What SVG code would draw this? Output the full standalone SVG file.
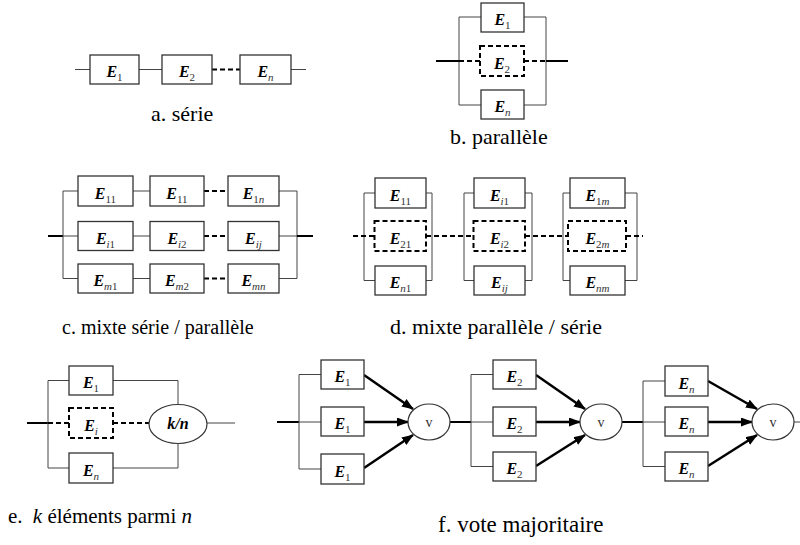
<svg xmlns="http://www.w3.org/2000/svg" width="800" height="545" viewBox="0 0 800 545">
<style>
.box{fill:#fff;stroke:#333;stroke-width:1.3}
.dbox{fill:#fff;stroke:#000;stroke-width:2;stroke-dasharray:5 3}
.thin{fill:none;stroke:#444;stroke-width:1}
.heavy{fill:none;stroke:#000;stroke-width:2}
.dash{fill:none;stroke:#000;stroke-width:2;stroke-dasharray:5 3}
.arrow{fill:none;stroke:#000;stroke-width:2.5;marker-end:url(#ah)}
.circ{fill:#fff;stroke:#333;stroke-width:1.2}
.lbl{font-family:"Liberation Serif","Times New Roman","DejaVu Serif",serif;font-size:16px;font-weight:bold;font-style:italic;text-anchor:middle;fill:#000}
.s{font-size:11px;font-weight:normal;font-style:normal;fill:#333}
.si{font-size:11px;font-weight:normal;font-style:italic;fill:#333}
.v{font-family:"Liberation Serif","Times New Roman","DejaVu Serif",serif;font-size:14px;text-anchor:middle;fill:#333}
.cap{font-family:"Liberation Serif","Times New Roman","DejaVu Serif",serif;fill:#000}
</style>
<defs>
<marker id="ah" markerUnits="userSpaceOnUse" markerWidth="13" markerHeight="10" refX="11" refY="4.5" orient="auto">
<path d="M0,0 L12,4.5 L0,9 z" fill="#000"/>
</marker>
</defs>

<g id="connectors">
<!-- a -->
<line class="thin" x1="75" y1="69.5" x2="90" y2="69.5"/>
<line class="thin" x1="139" y1="69.5" x2="162" y2="69.5"/>
<line class="dash" x1="212" y1="69.5" x2="240" y2="69.5"/>
<line class="thin" x1="291" y1="69.5" x2="306" y2="69.5"/>
<!-- b -->
<path class="thin" d="M481,17 H459 V105 H481"/>
<path class="thin" d="M524,17 H546 V105 H524"/>
<line class="heavy" x1="436" y1="61" x2="459" y2="61"/>
<line class="dash" x1="459" y1="61" x2="480" y2="61"/>
<line class="dash" x1="524" y1="61" x2="546" y2="61"/>
<line class="heavy" x1="546" y1="61" x2="568" y2="61"/>
<!-- c -->
<line class="heavy" x1="48" y1="236" x2="63" y2="236"/>
<path class="thin" d="M78,191 H63 V278.5 H78 M63,236 H78"/>
<path class="thin" d="M279,191 H297 V278.5 H279 M279,236 H297"/>
<line class="heavy" x1="297" y1="236" x2="313" y2="236"/>
<path class="thin" d="M133,191 H150 M133,236 H150 M133,278.5 H150"/>
<path class="dash" d="M204,191 H228 M204,236 H228 M204,278.5 H228"/>
<!-- d -->
<path class="thin" d="M375,193 H364 V280.5 H375 M426,193 H432 V280.5 H426"/>
<path class="thin" d="M474,193 H464 V280.5 H474 M525,193 H532 V280.5 H525"/>
<path class="thin" d="M570,193 H563 V280.5 H570 M625,193 H637 V280.5 H625"/>
<path class="dash" d="M353,236 H375 M426,236 H474 M525,236 H568 M626,236 H643"/>
<!-- e -->
<line class="heavy" x1="27" y1="423" x2="48" y2="423"/>
<path class="thin" d="M69,380.5 H48 V468 H69"/>
<line class="dash" x1="48" y1="423" x2="69" y2="423"/>
<path class="thin" d="M113,380.5 H178 V404.5 M113,468 H178 V443.5"/>
<line class="dash" x1="113" y1="423" x2="149" y2="423"/>
<line class="thin" x1="207" y1="423" x2="235" y2="423"/>
<!-- f -->
<line class="heavy" x1="277" y1="422" x2="299" y2="422"/>
<path class="thin" d="M321,374.5 H299 V469 H321 M299,422 H321"/>
<line class="arrow" x1="364" y1="375" x2="413" y2="409"/>
<line class="arrow" x1="364" y1="422" x2="408" y2="422"/>
<line class="arrow" x1="364" y1="468" x2="413" y2="435"/>
<line class="heavy" x1="450" y1="422" x2="471" y2="422"/>
<path class="thin" d="M493,374.5 H471 V466.5 H493 M471,422 H493"/>
<line class="arrow" x1="536" y1="375" x2="585" y2="409"/>
<line class="arrow" x1="536" y1="422" x2="580" y2="422"/>
<line class="arrow" x1="536" y1="466" x2="585" y2="435"/>
<line class="heavy" x1="622" y1="422" x2="643" y2="422"/>
<path class="thin" d="M665,381 H643 V466.5 H665 M643,422 H665"/>
<line class="arrow" x1="708" y1="381" x2="757" y2="409"/>
<line class="arrow" x1="708" y1="422" x2="752" y2="422"/>
<line class="arrow" x1="708" y1="466" x2="757" y2="435"/>
<line class="thin" x1="794" y1="422" x2="800" y2="422"/>
</g>

<!-- a. série -->
<g id="a-E1"><rect class="box" x="90" y="55" width="49" height="29"/><text class="lbl" x="114.5" y="77">E<tspan class="s" dy="4">1</tspan></text></g>
<g id="a-E2"><rect class="box" x="162" y="55" width="50" height="29"/><text class="lbl" x="187" y="77">E<tspan class="s" dy="4">2</tspan></text></g>
<g id="a-En"><rect class="box" x="240" y="55" width="51" height="29"/><text class="lbl" x="265.5" y="77">E<tspan class="si" dy="4">n</tspan></text></g>
<text class="cap" x="151" y="121" font-size="22">a. série</text>

<!-- b. parallèle -->
<g id="b-E1"><rect class="box" x="481" y="3" width="43" height="29"/><text class="lbl" x="502.5" y="25">E<tspan class="s" dy="4">1</tspan></text></g>
<g id="b-E2"><rect class="dbox" x="480" y="46" width="44" height="30"/><text class="lbl" x="502" y="68.5">E<tspan class="s" dy="4">2</tspan></text></g>
<g id="b-En"><rect class="box" x="481" y="90" width="43" height="29"/><text class="lbl" x="502.5" y="112">E<tspan class="si" dy="4">n</tspan></text></g>
<text class="cap" x="450" y="144" font-size="22">b. parallèle</text>

<!-- c. mixte série / parallèle -->
<g id="c-E11a"><rect class="box" x="78" y="176" width="55" height="30"/><text class="lbl" x="105.5" y="198.5">E<tspan class="s" dy="4">11</tspan></text></g>
<g id="c-E11b"><rect class="box" x="150" y="176" width="54" height="30"/><text class="lbl" x="177" y="198.5">E<tspan class="s" dy="4">11</tspan></text></g>
<g id="c-E1n"><rect class="box" x="228" y="176" width="51" height="30"/><text class="lbl" x="253.5" y="198.5">E<tspan class="s" dy="4">1</tspan><tspan class="si">n</tspan></text></g>
<g id="c-Ei1"><rect class="box" x="78" y="221.5" width="55" height="29"/><text class="lbl" x="105.5" y="243.5">E<tspan class="si" dy="4">i</tspan><tspan class="s">1</tspan></text></g>
<g id="c-Ei2"><rect class="box" x="150" y="221.5" width="54" height="29"/><text class="lbl" x="177" y="243.5">E<tspan class="si" dy="4">i</tspan><tspan class="s">2</tspan></text></g>
<g id="c-Eij"><rect class="box" x="228" y="221.5" width="51" height="29"/><text class="lbl" x="253.5" y="243.5">E<tspan class="si" dy="4">ij</tspan></text></g>
<g id="c-Em1"><rect class="box" x="78" y="264" width="55" height="29"/><text class="lbl" x="105.5" y="286">E<tspan class="si" dy="4">m</tspan><tspan class="s">1</tspan></text></g>
<g id="c-Em2"><rect class="box" x="150" y="264" width="54" height="29"/><text class="lbl" x="177" y="286">E<tspan class="si" dy="4">m</tspan><tspan class="s">2</tspan></text></g>
<g id="c-Emn"><rect class="box" x="228" y="264" width="51" height="29"/><text class="lbl" x="253.5" y="286">E<tspan class="si" dy="4">mn</tspan></text></g>
<text class="cap" x="62" y="334" font-size="20">c. mixte série / parallèle</text>

<!-- d. mixte parallèle / série -->
<g id="d-E11"><rect class="box" x="375" y="178" width="51" height="30"/><text class="lbl" x="400.5" y="200.5">E<tspan class="s" dy="4">11</tspan></text></g>
<g id="d-E21"><rect class="dbox" x="374.5" y="221" width="51.5" height="30"/><text class="lbl" x="400.5" y="243.5">E<tspan class="s" dy="4">21</tspan></text></g>
<g id="d-En1"><rect class="box" x="375" y="266" width="51" height="29"/><text class="lbl" x="400.5" y="288">E<tspan class="si" dy="4">n</tspan><tspan class="s">1</tspan></text></g>
<g id="d-Ei1"><rect class="box" x="474" y="178" width="51" height="30"/><text class="lbl" x="499.5" y="200.5">E<tspan class="si" dy="4">i</tspan><tspan class="s">1</tspan></text></g>
<g id="d-Ei2"><rect class="dbox" x="473.5" y="221" width="51.5" height="30"/><text class="lbl" x="499.5" y="243.5">E<tspan class="si" dy="4">i</tspan><tspan class="s">2</tspan></text></g>
<g id="d-Eij"><rect class="box" x="474" y="266" width="51" height="29"/><text class="lbl" x="499.5" y="288">E<tspan class="si" dy="4">ij</tspan></text></g>
<g id="d-E1m"><rect class="box" x="570" y="178" width="55" height="30"/><text class="lbl" x="597.5" y="200.5">E<tspan class="s" dy="4">1</tspan><tspan class="si">m</tspan></text></g>
<g id="d-E2m"><rect class="dbox" x="568" y="221" width="58" height="30"/><text class="lbl" x="597.5" y="243.5">E<tspan class="s" dy="4">2</tspan><tspan class="si">m</tspan></text></g>
<g id="d-Enm"><rect class="box" x="570" y="266" width="55" height="29"/><text class="lbl" x="597.5" y="288">E<tspan class="si" dy="4">nm</tspan></text></g>
<text class="cap" x="390" y="334" font-size="22">d. mixte parallèle / série</text>

<!-- e. k éléments parmi n -->
<g id="e-E1"><rect class="box" x="69" y="366" width="44" height="29"/><text class="lbl" x="91" y="388">E<tspan class="s" dy="4">1</tspan></text></g>
<g id="e-Ei"><rect class="dbox" x="69" y="408" width="44" height="30"/><text class="lbl" x="91" y="430.5">E<tspan class="si" dy="4">i</tspan></text></g>
<g id="e-En"><rect class="box" x="69" y="453" width="44" height="30"/><text class="lbl" x="91" y="475.5">E<tspan class="si" dy="4">n</tspan></text></g>
<g id="e-kn"><ellipse class="circ" cx="178" cy="424" rx="29" ry="19.5"/><text class="lbl" x="178" y="429" font-size="14">k/n</text></g>
<text class="cap" x="8" y="523" font-size="21">e. <tspan font-style="italic" dx="5">k</tspan> éléments parmi <tspan font-style="italic">n</tspan></text>

<!-- f. vote majoritaire -->
<g id="f-E1a"><rect class="box" x="321" y="360" width="43" height="29"/><text class="lbl" x="342.5" y="382">E<tspan class="s" dy="4">1</tspan></text></g>
<g id="f-E1b"><rect class="box" x="321" y="407" width="43" height="29"/><text class="lbl" x="342.5" y="429">E<tspan class="s" dy="4">1</tspan></text></g>
<g id="f-E1c"><rect class="box" x="321" y="454" width="43" height="30"/><text class="lbl" x="342.5" y="476.5">E<tspan class="s" dy="4">1</tspan></text></g>
<g id="f-v1"><ellipse class="circ" cx="429" cy="422" rx="21" ry="18"/><text class="v" x="429" y="427">v</text></g>
<g id="f-E2a"><rect class="box" x="493" y="360" width="43" height="29"/><text class="lbl" x="514.5" y="382">E<tspan class="s" dy="4">2</tspan></text></g>
<g id="f-E2b"><rect class="box" x="493" y="407" width="43" height="29"/><text class="lbl" x="514.5" y="429">E<tspan class="s" dy="4">2</tspan></text></g>
<g id="f-E2c"><rect class="box" x="493" y="452" width="43" height="29"/><text class="lbl" x="514.5" y="474">E<tspan class="s" dy="4">2</tspan></text></g>
<g id="f-v2"><ellipse class="circ" cx="601" cy="422" rx="21" ry="18"/><text class="v" x="601" y="427">v</text></g>
<g id="f-Ena"><rect class="box" x="665" y="366" width="43" height="30"/><text class="lbl" x="686.5" y="388.5">E<tspan class="si" dy="4">n</tspan></text></g>
<g id="f-Enb"><rect class="box" x="665" y="407" width="43" height="29"/><text class="lbl" x="686.5" y="429">E<tspan class="si" dy="4">n</tspan></text></g>
<g id="f-Enc"><rect class="box" x="665" y="452" width="43" height="29"/><text class="lbl" x="686.5" y="474">E<tspan class="si" dy="4">n</tspan></text></g>
<g id="f-v3"><ellipse class="circ" cx="773" cy="422" rx="21" ry="18"/><text class="v" x="773" y="427">v</text></g>
<text class="cap" x="438" y="532" font-size="23">f. vote majoritaire</text>
</svg>
